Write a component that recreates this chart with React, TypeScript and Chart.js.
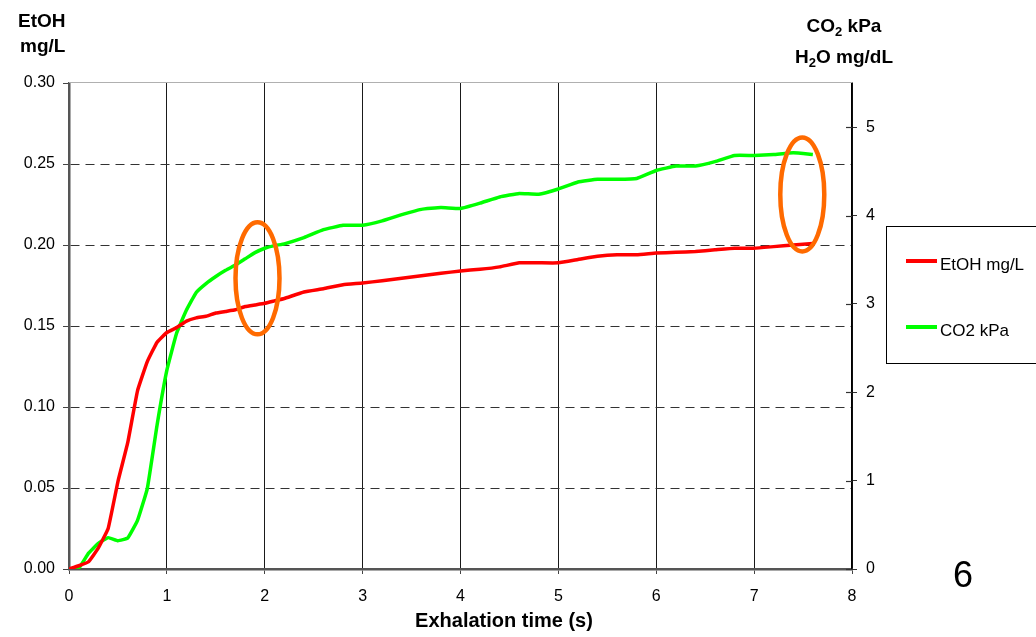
import React, { useEffect, useRef } from "react";
import { Chart, registerables } from "chart.js";

Chart.register(...registerables);

// ---- data ----
const TIME_S = [
  0, 0.1, 0.2, 0.3, 0.4, 0.5, 0.6, 0.7, 0.8, 0.9, 1.0, 1.1, 1.2, 1.3, 1.4, 1.5, 1.6, 1.7, 1.8, 1.9, 2.0, 2.1, 2.2,
  2.4, 2.6, 2.8, 3.0, 3.2, 3.4, 3.6, 3.8, 4.0, 4.2, 4.4, 4.6, 4.8, 5.0, 5.2, 5.4, 5.6, 5.8, 6.0, 6.2, 6.4, 6.6,
  6.8, 7.0, 7.2, 7.4, 7.6,
];
const ETOH_MGL = [
  0.0, 0.002, 0.0045, 0.013, 0.025, 0.054, 0.078, 0.11, 0.128, 0.14, 0.146, 0.149, 0.153, 0.155, 0.156, 0.158,
  0.159, 0.16, 0.162, 0.163, 0.164, 0.1655, 0.167,
  0.171, 0.173, 0.1755, 0.1765, 0.178, 0.1795, 0.181, 0.1825, 0.184, 0.185, 0.1865, 0.189, 0.189, 0.189, 0.191,
  0.193, 0.194, 0.194, 0.195, 0.1955, 0.196, 0.197, 0.198, 0.198, 0.199, 0.2, 0.201,
];
const CO2_KPA = [
  0, 0.01, 0.18, 0.29, 0.355, 0.32, 0.35, 0.55, 0.91, 1.63, 2.25, 2.67, 2.93, 3.13, 3.23, 3.31, 3.38, 3.44, 3.51,
  3.58, 3.63, 3.66, 3.68,
  3.75, 3.84, 3.89, 3.89, 3.94, 4.01, 4.07, 4.09, 4.08, 4.14, 4.21, 4.25, 4.24, 4.3, 4.38, 4.41, 4.41, 4.42, 4.51,
  4.56, 4.56, 4.61, 4.68, 4.68, 4.69, 4.71, 4.69,
];
const SERIES_LABELS = ["EtOH mg/L", "CO2 kPa"];
const X_TITLE = "Exhalation time (s)";
const LEFT_TITLE = ["EtOH", "mg/L"];
const SLIDE_NUMBER = "6";
// highlighted regions (centre in data units: time, EtOH axis)
const HIGHLIGHT_X = [1.926, 7.492];
const HIGHLIGHT_Y = [0.1794, 0.2312];

const FONT = '"Liberation Sans", Arial, Helvetica, sans-serif';
const RED = "#ff0000";
const GREEN = "#00ff00";
const ORANGE = "#ff6a00";

function drawSubText(
  ctx: CanvasRenderingContext2D,
  parts: { t: string; sub?: boolean }[],
  cx: number,
  baseline: number,
  size: number,
  subSize: number
) {
  const big = `bold ${size}px ${FONT}`;
  const small = `bold ${subSize}px ${FONT}`;
  let total = 0;
  for (const p of parts) {
    ctx.font = p.sub ? small : big;
    total += ctx.measureText(p.t).width;
  }
  let x = cx - total / 2;
  ctx.textAlign = "left";
  ctx.textBaseline = "alphabetic";
  for (const p of parts) {
    ctx.font = p.sub ? small : big;
    ctx.fillText(p.t, x, p.sub ? baseline + 4 : baseline);
    x += ctx.measureText(p.t).width;
  }
}

const decorPlugin = {
  id: "decor",
  afterDatasetsDraw(chart: any) {
    const ctx: CanvasRenderingContext2D = chart.ctx;
    const xs = chart.scales.x;
    const ys = chart.scales.y;
    ctx.save();
    ctx.strokeStyle = ORANGE;
    ctx.lineWidth = 4.5;
    for (let i = 0; i < HIGHLIGHT_X.length; i++) {
      const cx = xs.getPixelForValue(HIGHLIGHT_X[i]);
      const cy = ys.getPixelForValue(HIGHLIGHT_Y[i]);
      ctx.beginPath();
      ctx.ellipse(cx, cy, 22, i === 0 ? 56 : 57, 0, 0, Math.PI * 2);
      ctx.stroke();
    }
    ctx.restore();
  },
  afterDraw(chart: any) {
    const ctx: CanvasRenderingContext2D = chart.ctx;
    const area = chart.chartArea;
    const y2 = chart.scales.y2;
    ctx.save();
    // top frame line
    ctx.strokeStyle = "#b0b0b0";
    ctx.lineWidth = 1;
    ctx.beginPath();
    ctx.moveTo(area.left, Math.round(area.top) - 0.5);
    ctx.lineTo(area.right, Math.round(area.top) - 0.5);
    ctx.stroke();
    // inner tick marks on right axis
    ctx.strokeStyle = "#333";
    ctx.lineWidth = 1.2;
    for (const t of y2.ticks) {
      const py = Math.round(y2.getPixelForValue(t.value)) + 0.5;
      ctx.beginPath();
      ctx.moveTo(area.right - 6, py);
      ctx.lineTo(area.right, py);
      ctx.stroke();
    }
    // axis titles
    ctx.fillStyle = "#000";
    ctx.font = `bold 19px ${FONT}`;
    ctx.textAlign = "left";
    ctx.textBaseline = "alphabetic";
    ctx.fillText(LEFT_TITLE[0], 18, 27);
    ctx.fillText(LEFT_TITLE[1], 20, 52);
    drawSubText(ctx, [{ t: "CO" }, { t: "2", sub: true }, { t: " kPa" }], 844, 32, 19, 13);
    drawSubText(ctx, [{ t: "H" }, { t: "2", sub: true }, { t: "O mg/dL" }], 844, 63, 19, 13);
    ctx.font = `bold 20px ${FONT}`;
    ctx.textAlign = "center";
    ctx.fillText(X_TITLE, 504, 627);
    // slide number
    ctx.font = `36px ${FONT}`;
    ctx.textAlign = "left";
    ctx.fillText(SLIDE_NUMBER, 953, 587);
    // legend box
    ctx.strokeStyle = "#000";
    ctx.lineWidth = 1;
    ctx.strokeRect(886.5, 226.5, 200, 137);
    const items = [
      { label: SERIES_LABELS[0], color: RED, y: 261 },
      { label: SERIES_LABELS[1], color: GREEN, y: 327 },
    ];
    for (const it of items) {
      ctx.strokeStyle = it.color;
      ctx.lineWidth = 4;
      ctx.beginPath();
      ctx.moveTo(906, it.y);
      ctx.lineTo(937, it.y);
      ctx.stroke();
      ctx.fillStyle = "#000";
      ctx.font = `17px ${FONT}`;
      ctx.textAlign = "left";
      ctx.textBaseline = "alphabetic";
      ctx.fillText(it.label, 940, it.y + 9);
    }
    ctx.restore();
  },
};

export default function App() {
  const ref = useRef<HTMLCanvasElement | null>(null);
  useEffect(() => {
    if (!ref.current) return;
    const tickFont = { family: FONT, size: 16 };
    const chart = new Chart(ref.current, {
      type: "line",
      data: {
        datasets: [
          {
            label: SERIES_LABELS[0],
            data: TIME_S.map((t, i) => ({ x: t, y: ETOH_MGL[i] })),
            borderColor: RED,
            backgroundColor: RED,
            borderWidth: 3.5,
            pointRadius: 0,
            tension: 0.1,
            yAxisID: "y",
          },
          {
            label: SERIES_LABELS[1],
            data: TIME_S.map((t, i) => ({ x: t, y: CO2_KPA[i] })),
            borderColor: GREEN,
            backgroundColor: GREEN,
            borderWidth: 3.5,
            pointRadius: 0,
            tension: 0.1,
            yAxisID: "y2",
          },
        ],
      },
      options: {
        animation: false,
        responsive: false,
        maintainAspectRatio: false,
        layout: { padding: { top: 83, left: 0, right: 0, bottom: 0 } },
        plugins: { legend: { display: false }, tooltip: { enabled: false } },
        scales: {
          x: {
            type: "linear",
            min: 0,
            max: 8,
            ticks: {
              stepSize: 1,
              color: "#000",
              font: tickFont,
              padding: 13,
              maxRotation: 0,
              callback: (v: any) => String(v),
            },
            grid: { color: "#1a1a1a", lineWidth: 1, tickColor: "#444", tickLength: 5 },
            border: { color: "#555", width: 2.5 },
            afterFit: (s: any) => {
              s.height = 68;
            },
          },
          y: {
            type: "linear",
            position: "left",
            min: 0,
            max: 0.3,
            ticks: {
              stepSize: 0.05,
              color: "#000",
              font: tickFont,
              padding: 8,
              callback: (v: any) => Number(v).toFixed(2),
            },
            grid: {
              color: (c: any) => {
                const v = c.tick ? c.tick.value : 0;
                return v < 0.001 || v > 0.299 ? "rgba(0,0,0,0)" : "#333";
              },
              lineWidth: 1,
              tickColor: "#444",
              tickLength: 6,
            },
            border: { color: "#555", width: 2.5, dash: [9, 6] },
            afterFit: (s: any) => {
              s.width = 69;
            },
          },
          y2: {
            type: "linear",
            position: "right",
            min: 0,
            max: 5.5,
            ticks: {
              stepSize: 1,
              color: "#000",
              font: tickFont,
              padding: 9,
              callback: (v: any) => String(v),
            },
            afterBuildTicks: (s: any) => {
              s.ticks = s.ticks.filter((t: any) => Number.isInteger(t.value));
            },
            grid: { drawOnChartArea: false, tickColor: "#333", tickLength: 5 },
            border: { color: "#000", width: 1.5 },
            afterFit: (s: any) => {
              s.width = 184;
            },
          },
        },
      } as any,
      plugins: [decorPlugin],
    });
    return () => chart.destroy();
  }, []);
  return (
    <div style={{ position: "fixed", left: 0, top: 0, width: 1036, height: 637, background: "#fff" }}>
      <canvas ref={ref} width={1036} height={637} style={{ display: "block" }} />
    </div>
  );
}
